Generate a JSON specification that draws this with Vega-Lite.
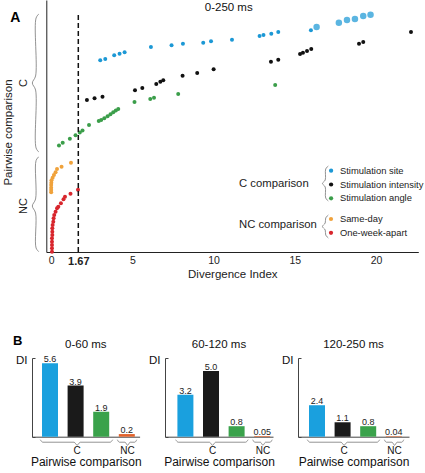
{
  "$schema": "https://vega.github.io/schema/vega-lite/v6.json",
  "padding": {"left": 2, "top": 0, "right": 0, "bottom": 0},
  "bounds": "flush",
  "spacing": 106,
  "config": {
    "view": {"stroke": null},
    "font": "Liberation Sans",
    "axis": {"grid": false, "domainWidth": 1},
    "title": {"font": "Liberation Sans"}
  },
  "resolve": {"scale": {"color": "independent"}},
  "datasets": {
    "cpoints": [
      {"comparison": "Stimulation site", "DI": 3.02, "rank": 191.7, "dot": "small"},
      {"comparison": "Stimulation site", "DI": 3.33, "rank": 193, "dot": "small"},
      {"comparison": "Stimulation site", "DI": 3.88, "rank": 196.7, "dot": "small"},
      {"comparison": "Stimulation site", "DI": 4.21, "rank": 198.3, "dot": "small"},
      {"comparison": "Stimulation site", "DI": 4.52, "rank": 199.7, "dot": "small"},
      {"comparison": "Stimulation site", "DI": 6.14, "rank": 205, "dot": "small"},
      {"comparison": "Stimulation site", "DI": 7.41, "rank": 206.7, "dot": "small"},
      {"comparison": "Stimulation site", "DI": 8.11, "rank": 208.3, "dot": "small"},
      {"comparison": "Stimulation site", "DI": 9.36, "rank": 209.3, "dot": "small"},
      {"comparison": "Stimulation site", "DI": 9.84, "rank": 210.7, "dot": "small"},
      {"comparison": "Stimulation site", "DI": 11.13, "rank": 212.3, "dot": "small"},
      {"comparison": "Stimulation site", "DI": 12.83, "rank": 216, "dot": "small"},
      {"comparison": "Stimulation site", "DI": 13.07, "rank": 217, "dot": "small"},
      {"comparison": "Stimulation site", "DI": 13.55, "rank": 218.3, "dot": "small"},
      {"comparison": "Stimulation site", "DI": 13.98, "rank": 220, "dot": "small"},
      {"comparison": "Stimulation site", "DI": 15.99, "rank": 221.7, "dot": "small"},
      {"comparison": "Stimulation site", "DI": 16.34, "rank": 225, "dot": "large"},
      {"comparison": "Stimulation site", "DI": 17.71, "rank": 229.3, "dot": "large"},
      {"comparison": "Stimulation site", "DI": 18.21, "rank": 232, "dot": "large"},
      {"comparison": "Stimulation site", "DI": 18.7, "rank": 233, "dot": "large"},
      {"comparison": "Stimulation site", "DI": 19.21, "rank": 236, "dot": "large"},
      {"comparison": "Stimulation site", "DI": 19.66, "rank": 237.3, "dot": "large"},
      {"comparison": "Stimulation intensity", "DI": 2.2, "rank": 152, "dot": "small"},
      {"comparison": "Stimulation intensity", "DI": 2.67, "rank": 153.7, "dot": "small"},
      {"comparison": "Stimulation intensity", "DI": 3.16, "rank": 155.3, "dot": "small"},
      {"comparison": "Stimulation intensity", "DI": 5.16, "rank": 161.7, "dot": "small"},
      {"comparison": "Stimulation intensity", "DI": 5.61, "rank": 164, "dot": "small"},
      {"comparison": "Stimulation intensity", "DI": 6.47, "rank": 168, "dot": "small"},
      {"comparison": "Stimulation intensity", "DI": 6.72, "rank": 170.3, "dot": "small"},
      {"comparison": "Stimulation intensity", "DI": 6.9, "rank": 171.7, "dot": "small"},
      {"comparison": "Stimulation intensity", "DI": 8.09, "rank": 176.3, "dot": "small"},
      {"comparison": "Stimulation intensity", "DI": 8.99, "rank": 179, "dot": "small"},
      {"comparison": "Stimulation intensity", "DI": 10.0, "rank": 182.7, "dot": "small"},
      {"comparison": "Stimulation intensity", "DI": 13.53, "rank": 190.3, "dot": "small"},
      {"comparison": "Stimulation intensity", "DI": 13.98, "rank": 192.3, "dot": "small"},
      {"comparison": "Stimulation intensity", "DI": 15.32, "rank": 198, "dot": "small"},
      {"comparison": "Stimulation intensity", "DI": 15.5, "rank": 199.3, "dot": "small"},
      {"comparison": "Stimulation intensity", "DI": 15.75, "rank": 201, "dot": "small"},
      {"comparison": "Stimulation intensity", "DI": 16.01, "rank": 203, "dot": "small"},
      {"comparison": "Stimulation intensity", "DI": 18.95, "rank": 208.3, "dot": "small"},
      {"comparison": "Stimulation intensity", "DI": 19.21, "rank": 210, "dot": "small"},
      {"comparison": "Stimulation intensity", "DI": 22.15, "rank": 220, "dot": "small"},
      {"comparison": "Stimulation angle", "DI": 0.48, "rank": 106.5, "dot": "small"},
      {"comparison": "Stimulation angle", "DI": 0.71, "rank": 109.3, "dot": "small"},
      {"comparison": "Stimulation angle", "DI": 1.15, "rank": 113.3, "dot": "small"},
      {"comparison": "Stimulation angle", "DI": 1.5, "rank": 116.8, "dot": "small"},
      {"comparison": "Stimulation angle", "DI": 1.76, "rank": 119.5, "dot": "small"},
      {"comparison": "Stimulation angle", "DI": 1.93, "rank": 121.5, "dot": "small"},
      {"comparison": "Stimulation angle", "DI": 2.33, "rank": 127, "dot": "small"},
      {"comparison": "Stimulation angle", "DI": 2.93, "rank": 131, "dot": "small"},
      {"comparison": "Stimulation angle", "DI": 3.08, "rank": 132, "dot": "small"},
      {"comparison": "Stimulation angle", "DI": 3.27, "rank": 133.7, "dot": "small"},
      {"comparison": "Stimulation angle", "DI": 3.47, "rank": 135.7, "dot": "small"},
      {"comparison": "Stimulation angle", "DI": 3.65, "rank": 137.7, "dot": "small"},
      {"comparison": "Stimulation angle", "DI": 3.82, "rank": 139.7, "dot": "small"},
      {"comparison": "Stimulation angle", "DI": 3.98, "rank": 141.5, "dot": "small"},
      {"comparison": "Stimulation angle", "DI": 4.13, "rank": 143, "dot": "small"},
      {"comparison": "Stimulation angle", "DI": 5.13, "rank": 150, "dot": "small"},
      {"comparison": "Stimulation angle", "DI": 6.1, "rank": 153, "dot": "small"},
      {"comparison": "Stimulation angle", "DI": 6.33, "rank": 154.3, "dot": "small"},
      {"comparison": "Stimulation angle", "DI": 7.82, "rank": 158, "dot": "small"},
      {"comparison": "Stimulation angle", "DI": 13.79, "rank": 167, "dot": "small"}
    ],
    "ncpoints": [
      {"comparison": "Same-day", "DI": 0.0, "rank": 59.7},
      {"comparison": "Same-day", "DI": 0.0, "rank": 62},
      {"comparison": "Same-day", "DI": 0.0, "rank": 64.3},
      {"comparison": "Same-day", "DI": 0.0, "rank": 67},
      {"comparison": "Same-day", "DI": 0.01, "rank": 69.3},
      {"comparison": "Same-day", "DI": 0.02, "rank": 71.7},
      {"comparison": "Same-day", "DI": 0.09, "rank": 74.3},
      {"comparison": "Same-day", "DI": 0.17, "rank": 77},
      {"comparison": "Same-day", "DI": 0.27, "rank": 79.7},
      {"comparison": "Same-day", "DI": 0.36, "rank": 83},
      {"comparison": "Same-day", "DI": 0.64, "rank": 85.3},
      {"comparison": "Same-day", "DI": 1.22, "rank": 89.3},
      {"comparison": "One-week-apart", "DI": 0.05, "rank": 0.3},
      {"comparison": "One-week-apart", "DI": 0.05, "rank": 3.7},
      {"comparison": "One-week-apart", "DI": 0.05, "rank": 7},
      {"comparison": "One-week-apart", "DI": 0.05, "rank": 10.3},
      {"comparison": "One-week-apart", "DI": 0.05, "rank": 13.7},
      {"comparison": "One-week-apart", "DI": 0.07, "rank": 17},
      {"comparison": "One-week-apart", "DI": 0.07, "rank": 20.3},
      {"comparison": "One-week-apart", "DI": 0.07, "rank": 23.7},
      {"comparison": "One-week-apart", "DI": 0.09, "rank": 27},
      {"comparison": "One-week-apart", "DI": 0.13, "rank": 30.3},
      {"comparison": "One-week-apart", "DI": 0.15, "rank": 33.7},
      {"comparison": "One-week-apart", "DI": 0.19, "rank": 37},
      {"comparison": "One-week-apart", "DI": 0.27, "rank": 40.3},
      {"comparison": "One-week-apart", "DI": 0.36, "rank": 43.7},
      {"comparison": "One-week-apart", "DI": 0.44, "rank": 45.3},
      {"comparison": "One-week-apart", "DI": 0.6, "rank": 48.7},
      {"comparison": "One-week-apart", "DI": 0.76, "rank": 52.7},
      {"comparison": "One-week-apart", "DI": 0.85, "rank": 55.3},
      {"comparison": "One-week-apart", "DI": 1.19, "rank": 58.3},
      {"comparison": "One-week-apart", "DI": 1.65, "rank": 62.3}
    ],
    "abraces": [
      {"brace": "C", "ord": 1, "DI": -0.76, "rank": 238},
      {"brace": "C", "ord": 2, "DI": -0.93, "rank": 234},
      {"brace": "C", "ord": 3, "DI": -0.96, "rank": 176},
      {"brace": "C", "ord": 4, "DI": -1.16, "rank": 169},
      {"brace": "C", "ord": 5, "DI": -0.96, "rank": 162},
      {"brace": "C", "ord": 6, "DI": -0.93, "rank": 104},
      {"brace": "C", "ord": 7, "DI": -0.76, "rank": 100},
      {"brace": "NC", "ord": 1, "DI": -0.76, "rank": 95.3},
      {"brace": "NC", "ord": 2, "DI": -0.93, "rank": 91.5},
      {"brace": "NC", "ord": 3, "DI": -0.96, "rank": 53},
      {"brace": "NC", "ord": 4, "DI": -1.16, "rank": 46},
      {"brace": "NC", "ord": 5, "DI": -0.96, "rank": 39},
      {"brace": "NC", "ord": 6, "DI": -0.93, "rank": 4},
      {"brace": "NC", "ord": 7, "DI": -0.76, "rank": 0.3},
      {"brace": "legC", "ord": 1, "DI": 17.06, "rank": 86},
      {"brace": "legC", "ord": 2, "DI": 16.9, "rank": 83},
      {"brace": "legC", "ord": 3, "DI": 16.87, "rank": 72},
      {"brace": "legC", "ord": 4, "DI": 16.7, "rank": 68.5},
      {"brace": "legC", "ord": 5, "DI": 16.87, "rank": 65},
      {"brace": "legC", "ord": 6, "DI": 16.9, "rank": 54},
      {"brace": "legC", "ord": 7, "DI": 17.06, "rank": 51},
      {"brace": "legNC", "ord": 1, "DI": 17.06, "rank": 37},
      {"brace": "legNC", "ord": 2, "DI": 16.9, "rank": 34},
      {"brace": "legNC", "ord": 3, "DI": 16.87, "rank": 29},
      {"brace": "legNC", "ord": 4, "DI": 16.7, "rank": 25.5},
      {"brace": "legNC", "ord": 5, "DI": 16.87, "rank": 22},
      {"brace": "legNC", "ord": 6, "DI": 16.9, "rank": 17},
      {"brace": "legNC", "ord": 7, "DI": 17.06, "rank": 14}
    ],
    "bars": [
      {"win": "0-60 ms", "comp": "Stimulation site", "DI": 5.6, "label": "5.6"},
      {"win": "0-60 ms", "comp": "Stimulation intensity", "DI": 3.9, "label": "3.9"},
      {"win": "0-60 ms", "comp": "Stimulation angle", "DI": 1.9, "label": "1.9"},
      {"win": "0-60 ms", "comp": "NC", "DI": 0.2, "label": "0.2"},
      {"win": "60-120 ms", "comp": "Stimulation site", "DI": 3.2, "label": "3.2"},
      {"win": "60-120 ms", "comp": "Stimulation intensity", "DI": 5.0, "label": "5.0"},
      {"win": "60-120 ms", "comp": "Stimulation angle", "DI": 0.8, "label": "0.8"},
      {"win": "60-120 ms", "comp": "NC", "DI": 0.05, "label": "0.05"},
      {"win": "120-250 ms", "comp": "Stimulation site", "DI": 2.4, "label": "2.4"},
      {"win": "120-250 ms", "comp": "Stimulation intensity", "DI": 1.1, "label": "1.1"},
      {"win": "120-250 ms", "comp": "Stimulation angle", "DI": 0.8, "label": "0.8"},
      {"win": "120-250 ms", "comp": "NC", "DI": 0.04, "label": "0.04"}
    ],
    "bbraces": [
      {"grp": "C", "ord": 1, "slot": -0.38, "DI": -0.23},
      {"grp": "C", "ord": 2, "slot": -0.28, "DI": -0.42},
      {"grp": "C", "ord": 3, "slot": 0.94, "DI": -0.42},
      {"grp": "C", "ord": 4, "slot": 1.06, "DI": -0.65},
      {"grp": "C", "ord": 5, "slot": 1.18, "DI": -0.42},
      {"grp": "C", "ord": 6, "slot": 2.35, "DI": -0.42},
      {"grp": "C", "ord": 7, "slot": 2.45, "DI": -0.23},
      {"grp": "NC", "ord": 1, "slot": 2.63, "DI": -0.23},
      {"grp": "NC", "ord": 2, "slot": 2.71, "DI": -0.42},
      {"grp": "NC", "ord": 3, "slot": 2.93, "DI": -0.42},
      {"grp": "NC", "ord": 4, "slot": 3.03, "DI": -0.65},
      {"grp": "NC", "ord": 5, "slot": 3.13, "DI": -0.42},
      {"grp": "NC", "ord": 6, "slot": 3.31, "DI": -0.42},
      {"grp": "NC", "ord": 7, "slot": 3.39, "DI": -0.23}
    ],
    "bgroups": [
      {"grp": "C", "slot": 1.06, "DI": -1.1},
      {"grp": "NC", "slot": 3.03, "DI": -1.1}
    ]
  },
  "vconcat": [
    {
      "width": 386.3,
      "height": 252,
      "title": {"text": "A", "anchor": "start", "frame": "group", "fontSize": 14, "fontWeight": "bold", "color": "#000", "dx": -21.7, "dy": 36, "offset": 0, "baseline": "alphabetic"},
      "layer": [
        {
          "data": {"name": "cpoints"},
          "mark": {"type": "circle", "opacity": 1},
          "encoding": {
            "x": {
              "field": "DI", "type": "quantitative",
              "scale": {"domain": [-0.3, 22.6], "range": [14.3, 386.3], "nice": false, "zero": false},
              "axis": {
                "values": [0, 1.67, 5, 10, 15, 20],
                "labelExpr": "toString(datum.value)",
                "labelFlush": false, "ticks": false, "domainColor": "#222",
                "labelFont": "Liberation Sans", "labelColor": "#222", "labelPadding": 3,
                "labelFontSize": {"condition": {"test": "datum.value === 1.67", "value": 11}, "value": 10.5},
                "labelFontWeight": {"condition": {"test": "datum.value === 1.67", "value": "bold"}, "value": "normal"},
                "title": "Divergence Index", "titleFontSize": 11.5, "titleFontWeight": "normal", "titleColor": "#222", "titlePadding": 2
              }
            },
            "y": {
              "field": "rank", "type": "quantitative",
              "scale": {"domain": [0, 252], "nice": false, "zero": false},
              "axis": {
                "labels": false, "ticks": false, "domainColor": "#222", "offset": -14.3,
                "title": "Pairwise comparison", "titleFontSize": 11.5, "titleFontWeight": "normal", "titleColor": "#222",
                "titleAngle": 270, "titleX": -38, "titleY": 132, "titleAlign": "center", "titleBaseline": "middle"
              }
            },
            "color": {
              "field": "comparison", "type": "nominal",
              "scale": {"domain": ["Stimulation site", "Stimulation intensity", "Stimulation angle"], "range": ["#1c98d5", "#111111", "#3b9e4a"]},
              "legend": {
                "orient": "none", "legendX": 207, "legendY": 166, "padding": 0,
                "title": "C comparison", "titleOrient": "left", "titleAnchor": "middle", "titleBaseline": "middle",
                "titlePadding": 17.4, "titleFont": "Liberation Sans", "titleFontSize": 11.3, "titleFontWeight": "normal", "titleColor": "#222",
                "labelFont": "Liberation Sans", "labelFontSize": 9.4, "labelColor": "#222", "labelOffset": 4.2,
                "symbolType": "circle", "symbolSize": 18, "rowPadding": 2.8
              }
            },
            "size": {"field": "dot", "type": "nominal", "scale": {"domain": ["small", "large"], "range": [16, 42]}, "legend": null},
            "opacity": {"field": "dot", "type": "nominal", "scale": {"domain": ["small", "large"], "range": [1, 0.72]}, "legend": null}
          }
        },
        {
          "data": {"name": "ncpoints"},
          "mark": {"type": "circle", "size": 16, "opacity": 1},
          "encoding": {
            "x": {"field": "DI", "type": "quantitative"},
            "y": {"field": "rank", "type": "quantitative"},
            "fill": {
              "field": "comparison", "type": "nominal",
              "scale": {"domain": ["Same-day", "One-week-apart"], "range": ["#f0a23b", "#d8262d"]},
              "legend": {
                "orient": "none", "legendX": 207, "legendY": 214.3, "padding": 0,
                "title": "NC comparison", "titleOrient": "left", "titleAnchor": "middle", "titleBaseline": "middle",
                "titlePadding": 9.3, "titleFont": "Liberation Sans", "titleFontSize": 11.3, "titleFontWeight": "normal", "titleColor": "#222",
                "labelFont": "Liberation Sans", "labelFontSize": 9.4, "labelColor": "#222", "labelOffset": 4.2,
                "symbolType": "circle", "symbolSize": 18, "rowPadding": 2.8
              }
            }
          }
        },
        {
          "data": {"values": [{"DI": 1.67, "rank": 0, "rank2": 238}]},
          "mark": {"type": "rule", "color": "#111", "strokeWidth": 1.5, "strokeDash": [5, 3]},
          "encoding": {
            "x": {"field": "DI", "type": "quantitative"},
            "y": {"field": "rank", "type": "quantitative"},
            "y2": {"field": "rank2"}
          }
        },
        {
          "data": {"name": "abraces"},
          "mark": {"type": "line", "interpolate": "catmull-rom", "color": "#777", "strokeWidth": 0.8},
          "encoding": {
            "x": {"field": "DI", "type": "quantitative"},
            "y": {"field": "rank", "type": "quantitative"},
            "detail": {"field": "brace"},
            "order": {"field": "ord", "type": "quantitative"}
          }
        },
        {
          "data": {"values": [{"label": "C", "DI": -1.656, "rank": 169}, {"label": "NC", "DI": -1.656, "rank": 46}]},
          "mark": {"type": "text", "angle": 270, "fontSize": 11, "color": "#222", "align": "center", "baseline": "middle"},
          "encoding": {
            "x": {"field": "DI", "type": "quantitative"},
            "y": {"field": "rank", "type": "quantitative"},
            "text": {"field": "label"}
          }
        },
        {
          "data": {"values": [{"label": "0-250 ms", "DI": 10.93, "rank": 243.7}]},
          "mark": {"type": "text", "fontSize": 11.5, "color": "#111", "align": "center", "baseline": "middle"},
          "encoding": {
            "x": {"field": "DI", "type": "quantitative"},
            "y": {"field": "rank", "type": "quantitative"},
            "text": {"field": "label"}
          }
        }
      ]
    },
    {
      "bounds": "flush",
      "spacing": 25,
      "title": {"text": "B", "anchor": "start", "frame": "group", "fontSize": 13, "fontWeight": "bold", "color": "#000", "dx": -19, "dy": 9, "offset": 0},
      "hconcat": [
        {
          "width": 107.6, "height": 78.7,
          "title": {"text": "0-60 ms", "frame": "group", "fontSize": 11.5, "fontWeight": "normal", "color": "#111", "offset": 4.5},
          "resolve": {"scale": {"x": "independent"}},
          "layer": [
            {
              "data": {"name": "bars"},
              "transform": [{"filter": "datum.win === '0-60 ms'"}],
              "encoding": {
                "x": {"field": "comp", "type": "nominal", "sort": ["Stimulation site", "Stimulation intensity", "Stimulation angle", "NC"],
                  "scale": {"domain": ["Stimulation site", "Stimulation intensity", "Stimulation angle", "NC"], "paddingInner": 0.375, "paddingOuter": 0.289, "align": 0.676},
                  "axis": {"labels": false, "ticks": false, "domainColor": "#444", "title": "Pairwise comparison", "titleFontSize": 12, "titleFontWeight": "normal", "titleColor": "#111", "titlePadding": 19.5}},
                "y": {"field": "DI", "type": "quantitative", "scale": {"domain": [0, 6], "nice": false},
                  "axis": {"values": [0, 3, 6], "labels": false, "tickSize": -3, "tickColor": "#444", "domainColor": "#444", "title": "DI", "titleAngle": 0, "titleX": -10.7, "titleY": 2.7, "titleAlign": "center", "titleBaseline": "middle", "titleFontSize": 11.5, "titleFontWeight": "normal", "titleColor": "#111"}}
              },
              "layer": [
                {"mark": {"type": "bar"},
                 "encoding": {"color": {"field": "comp", "type": "nominal", "scale": {"domain": ["Stimulation site", "Stimulation intensity", "Stimulation angle", "NC"], "range": ["#1aa0de", "#1a1a1a", "#3aa24b", "#e2622a"]}, "legend": null}}},
                {"mark": {"type": "text", "baseline": "alphabetic", "dy": -1, "fontSize": 9, "color": "#222"},
                 "encoding": {"text": {"field": "label"}}}
              ]
            },
            {
              "encoding": {
                "x": {"field": "slot", "type": "quantitative", "scale": {"domain": [-0.703, 3.5], "nice": false, "zero": false}, "axis": null},
                "y": {"field": "DI", "type": "quantitative"}
              },
              "layer": [
                {"data": {"name": "bbraces"}, "mark": {"type": "line", "interpolate": "monotone", "color": "#777", "strokeWidth": 0.8},
                 "encoding": {"detail": {"field": "grp"}, "order": {"field": "ord", "type": "quantitative"}}},
                {"data": {"name": "bgroups"}, "mark": {"type": "text", "fontSize": 10, "color": "#111", "align": "center", "baseline": "middle"},
                 "encoding": {"text": {"field": "grp"}}}
              ]
            }
          ]
        },
        {
          "width": 108, "height": 78.7,
          "title": {"text": "60-120 ms", "frame": "group", "fontSize": 11.5, "fontWeight": "normal", "color": "#111", "offset": 4.5},
          "resolve": {"scale": {"x": "independent"}},
          "layer": [
            {
              "data": {"name": "bars"},
              "transform": [{"filter": "datum.win === '60-120 ms'"}],
              "encoding": {
                "x": {"field": "comp", "type": "nominal", "sort": ["Stimulation site", "Stimulation intensity", "Stimulation angle", "NC"],
                  "scale": {"domain": ["Stimulation site", "Stimulation intensity", "Stimulation angle", "NC"], "paddingInner": 0.375, "paddingOuter": 0.297, "align": 0.816},
                  "axis": {"labels": false, "ticks": false, "domainColor": "#444", "title": "Pairwise comparison", "titleFontSize": 12, "titleFontWeight": "normal", "titleColor": "#111", "titlePadding": 19.5}},
                "y": {"field": "DI", "type": "quantitative", "scale": {"domain": [0, 6], "nice": false},
                  "axis": {"values": [0, 3, 6], "labels": false, "tickSize": -3, "tickColor": "#444", "domainColor": "#444", "title": "DI", "titleAngle": 0, "titleX": -10.7, "titleY": 2.7, "titleAlign": "center", "titleBaseline": "middle", "titleFontSize": 11.5, "titleFontWeight": "normal", "titleColor": "#111"}}
              },
              "layer": [
                {"mark": {"type": "bar"},
                 "encoding": {"color": {"field": "comp", "type": "nominal", "scale": {"domain": ["Stimulation site", "Stimulation intensity", "Stimulation angle", "NC"], "range": ["#1aa0de", "#1a1a1a", "#3aa24b", "#e2622a"]}, "legend": null}}},
                {"mark": {"type": "text", "baseline": "alphabetic", "dy": -1, "fontSize": 9, "color": "#222"},
                 "encoding": {"text": {"field": "label"}}}
              ]
            },
            {
              "encoding": {
                "x": {"field": "slot", "type": "quantitative", "scale": {"domain": [-0.797, 3.422], "nice": false, "zero": false}, "axis": null},
                "y": {"field": "DI", "type": "quantitative"}
              },
              "layer": [
                {"data": {"name": "bbraces"}, "mark": {"type": "line", "interpolate": "monotone", "color": "#777", "strokeWidth": 0.8},
                 "encoding": {"detail": {"field": "grp"}, "order": {"field": "ord", "type": "quantitative"}}},
                {"data": {"name": "bgroups"}, "mark": {"type": "text", "fontSize": 10, "color": "#111", "align": "center", "baseline": "middle"},
                 "encoding": {"text": {"field": "grp"}}}
              ]
            }
          ]
        },
        {
          "width": 111, "height": 78.7,
          "title": {"text": "120-250 ms", "frame": "group", "fontSize": 11.5, "fontWeight": "normal", "color": "#111", "offset": 4.5},
          "resolve": {"scale": {"x": "independent"}},
          "layer": [
            {
              "data": {"name": "bars"},
              "transform": [{"filter": "datum.win === '120-250 ms'"}],
              "encoding": {
                "x": {"field": "comp", "type": "nominal", "sort": ["Stimulation site", "Stimulation intensity", "Stimulation angle", "NC"],
                  "scale": {"domain": ["Stimulation site", "Stimulation intensity", "Stimulation angle", "NC"], "paddingInner": 0.375, "paddingOuter": 0.355, "align": 0.604},
                  "axis": {"labels": false, "ticks": false, "domainColor": "#444", "title": "Pairwise comparison", "titleFontSize": 12, "titleFontWeight": "normal", "titleColor": "#111", "titlePadding": 19.5}},
                "y": {"field": "DI", "type": "quantitative", "scale": {"domain": [0, 6], "nice": false},
                  "axis": {"values": [0, 3, 6], "labels": false, "tickSize": -3, "tickColor": "#444", "domainColor": "#444", "title": "DI", "titleAngle": 0, "titleX": -10.7, "titleY": 2.7, "titleAlign": "center", "titleBaseline": "middle", "titleFontSize": 11.5, "titleFontWeight": "normal", "titleColor": "#111"}}
              },
              "layer": [
                {"mark": {"type": "bar"},
                 "encoding": {"color": {"field": "comp", "type": "nominal", "scale": {"domain": ["Stimulation site", "Stimulation intensity", "Stimulation angle", "NC"], "range": ["#1aa0de", "#1a1a1a", "#3aa24b", "#e2622a"]}, "legend": null}}},
                {"mark": {"type": "text", "baseline": "alphabetic", "dy": -1, "fontSize": 9, "color": "#222"},
                 "encoding": {"text": {"field": "label"}}}
              ]
            },
            {
              "encoding": {
                "x": {"field": "slot", "type": "quantitative", "scale": {"domain": [-0.742, 3.594], "nice": false, "zero": false}, "axis": null},
                "y": {"field": "DI", "type": "quantitative"}
              },
              "layer": [
                {"data": {"name": "bbraces"}, "mark": {"type": "line", "interpolate": "monotone", "color": "#777", "strokeWidth": 0.8},
                 "encoding": {"detail": {"field": "grp"}, "order": {"field": "ord", "type": "quantitative"}}},
                {"data": {"name": "bgroups"}, "mark": {"type": "text", "fontSize": 10, "color": "#111", "align": "center", "baseline": "middle"},
                 "encoding": {"text": {"field": "grp"}}}
              ]
            }
          ]
        }
      ]
    }
  ]
}
